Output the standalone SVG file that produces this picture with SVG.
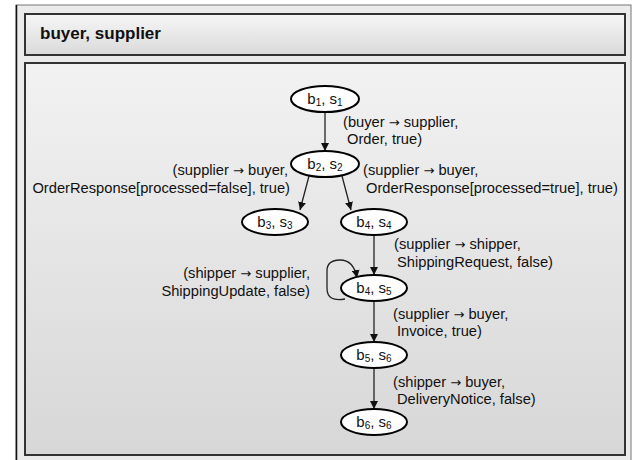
<svg xmlns="http://www.w3.org/2000/svg" width="633" height="460" viewBox="0 0 633 460">
<style>
.lbl{font-family:"Liberation Sans",Arial,sans-serif;font-size:14.7px;fill:#111}
.nl{font-family:"Liberation Sans",Arial,sans-serif;font-size:15px;fill:#111;text-anchor:middle}
.sub{font-size:10px}
.ar{font-family:"DejaVu Sans",sans-serif;font-size:13px}
.title{font-family:"Liberation Sans",Arial,sans-serif;font-size:17px;font-weight:bold;fill:#111}
.node{fill:#fff;stroke:#000;stroke-width:2}
.edge{fill:none;stroke:#222;stroke-width:1.3}
.r{text-anchor:end}
</style>
<defs>
<linearGradient id="hg" x1="0" y1="0" x2="0" y2="1"><stop offset="0" stop-color="#f6f6f6"/><stop offset="1" stop-color="#dadada"/></linearGradient>
<linearGradient id="cg" x1="0" y1="0" x2="0" y2="1"><stop offset="0" stop-color="#f2f2f2"/><stop offset="1" stop-color="#d7d7d7"/></linearGradient>
<marker id="ah" viewBox="0 0 10 10" refX="10" refY="5" markerWidth="8" markerHeight="8" markerUnits="userSpaceOnUse" orient="auto"><path d="M0,0 L10,5 L0,10 z" fill="#111"/></marker>
</defs>
<g id="frame">
<rect x="16" y="5" width="615" height="460" fill="#ebebeb" stroke="#777" stroke-width="1"/>
<line x1="16.5" y1="5" x2="16.5" y2="460" stroke="#111" stroke-width="1.5"/>
<rect x="25" y="14" width="600" height="41" fill="url(#hg)" stroke="#333" stroke-width="2"/>
<text class="title" x="40" y="39">buyer, supplier</text>
<rect x="25" y="63" width="600" height="392" fill="url(#cg)" stroke="#333" stroke-width="2"/>
</g>
<g id="connectors">
<line class="edge" x1="325" y1="113" x2="325" y2="151" marker-end="url(#ah)"/>
<line class="edge" x1="309" y1="176" x2="300" y2="210" marker-end="url(#ah)"/>
<line class="edge" x1="342" y1="176" x2="351" y2="210" marker-end="url(#ah)"/>
<line class="edge" x1="374" y1="235" x2="374" y2="275" marker-end="url(#ah)"/>
<line class="edge" x1="374" y1="301" x2="374" y2="342" marker-end="url(#ah)"/>
<line class="edge" x1="374" y1="368" x2="374" y2="409" marker-end="url(#ah)"/>
<path class="edge" d="M345 299 C333 301 327 298 327 288 L327 271 C327 263 332 260 340 260 C350 260 355 267 357 278" marker-end="url(#ah)"/>
<text class="lbl" x="343" y="127">(buyer <tspan class="ar">→</tspan> supplier,</text>
<text class="lbl" x="347" y="144">Order, true)</text>
<text class="lbl" x="363" y="175">(supplier <tspan class="ar">→</tspan> buyer,</text>
<text class="lbl" x="366" y="193">OrderResponse[processed=true], true)</text>
<text class="lbl r" x="288" y="175">(supplier <tspan class="ar">→</tspan> buyer,</text>
<text class="lbl r" x="290" y="193">OrderResponse[processed=false], true)</text>
<text class="lbl" x="394" y="249">(supplier <tspan class="ar">→</tspan> shipper,</text>
<text class="lbl" x="397" y="267">ShippingRequest, false)</text>
<text class="lbl r" x="310" y="278">(shipper <tspan class="ar">→</tspan> supplier,</text>
<text class="lbl r" x="310" y="296">ShippingUpdate, false)</text>
<text class="lbl" x="393" y="319">(supplier <tspan class="ar">→</tspan> buyer,</text>
<text class="lbl" x="397" y="336">Invoice, true)</text>
<text class="lbl" x="393" y="387">(shipper <tspan class="ar">→</tspan> buyer,</text>
<text class="lbl" x="397" y="404">DeliveryNotice, false)</text>
</g>
<g id="n1"><ellipse class="node" cx="325" cy="99" rx="34" ry="13"/><text class="nl" x="325" y="104">b<tspan class="sub" dy="2">1</tspan><tspan dy="-2">, s</tspan><tspan class="sub" dy="2">1</tspan></text></g>
<g id="n2"><ellipse class="node" cx="325" cy="164" rx="34" ry="13"/><text class="nl" x="325" y="169">b<tspan class="sub" dy="2">2</tspan><tspan dy="-2">, s</tspan><tspan class="sub" dy="2">2</tspan></text></g>
<g id="n3"><ellipse class="node" cx="275" cy="222" rx="33" ry="13"/><text class="nl" x="275" y="227">b<tspan class="sub" dy="2">3</tspan><tspan dy="-2">, s</tspan><tspan class="sub" dy="2">3</tspan></text></g>
<g id="n4"><ellipse class="node" cx="374" cy="222" rx="33" ry="13"/><text class="nl" x="374" y="227">b<tspan class="sub" dy="2">4</tspan><tspan dy="-2">, s</tspan><tspan class="sub" dy="2">4</tspan></text></g>
<g id="n5"><ellipse class="node" cx="374" cy="288" rx="33" ry="13"/><text class="nl" x="374" y="293">b<tspan class="sub" dy="2">4</tspan><tspan dy="-2">, s</tspan><tspan class="sub" dy="2">5</tspan></text></g>
<g id="n6"><ellipse class="node" cx="374" cy="355" rx="33" ry="13"/><text class="nl" x="374" y="360">b<tspan class="sub" dy="2">5</tspan><tspan dy="-2">, s</tspan><tspan class="sub" dy="2">6</tspan></text></g>
<g id="n7"><ellipse class="node" cx="374" cy="422" rx="33" ry="13"/><text class="nl" x="374" y="427">b<tspan class="sub" dy="2">6</tspan><tspan dy="-2">, s</tspan><tspan class="sub" dy="2">6</tspan></text></g>
</svg>
